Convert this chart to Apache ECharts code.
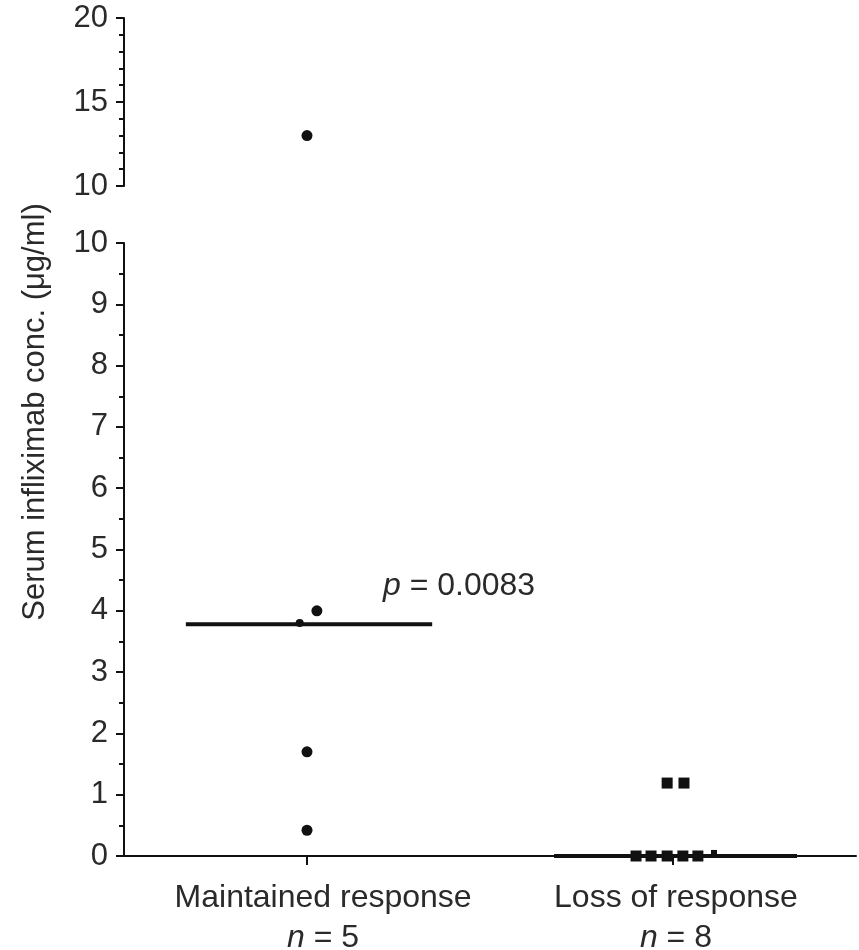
<!DOCTYPE html>
<html>
<head>
<meta charset="utf-8">
<script src="https://cdn.jsdelivr.net/npm/echarts@6/dist/echarts.min.js"></script>
<style>html,body{margin:0;padding:0;background:#fff;}#c{width:859px;height:950px;}</style>
</head>
<body>
<div id="c"></div>
<script>
// ---- data ----
var categories = ['Maintained response', 'Loss of response'];
var groupN = [5, 8];
var categoryPos = [0.5, 1.5];
var labelPos = [0.544, 1.508];
// Maintained response group (x position incl. jitter, concentration µg/ml)
var maintainedX = [0.5, 0.527, 0.48, 0.5, 0.5];
var maintainedY = [13.0, 4.0, 3.8, 1.7, 0.42];
// Loss of response group
var lossX = [1.484, 1.530, 1.399, 1.440, 1.484, 1.527, 1.568, 1.612];
var lossY = [1.19, 1.19, 0, 0, 0, 0, 0, 0.05];
// median lines [xStart, xEnd, value]
var medianMaintained = [0.169, 0.842, 3.78];
var medianLoss = [1.175, 1.839, 0];
var pValueText = '0.0083';
var yAxisTitle = 'Serum infliximab conc. (\u03bcg/ml)';
var breakValue = 10;

function pairs(xs, ys, cond) {
  var out = [];
  for (var i = 0; i < xs.length; i++) if (cond(ys[i])) out.push([xs[i], ys[i]]);
  return out;
}
var upper = function (v) { return v > breakValue; };
var lower = function (v) { return v <= breakValue; };

var FONT = 'Liberation Sans, Arial, sans-serif';
var TXT = '#2a2a2a';

var chart = echarts.init(document.getElementById('c'));
chart.setOption({
  animation: false,
  backgroundColor: '#fff',
  grid: [
    { left: 124, right: 3, top: 18, height: 168, containLabel: false, outerBoundsMode: 'none' },
    { left: 124, right: 3, top: 243, height: 613, containLabel: false, outerBoundsMode: 'none' }
  ],
  xAxis: [
    { gridIndex: 0, type: 'value', min: 0, max: 2, show: false },
    {
      gridIndex: 1, type: 'value', min: 0, max: 2,
      splitLine: { show: false },
      axisLine: { lineStyle: { color: '#111', width: 2 } },
      axisTick: { customValues: categoryPos, length: 9, lineStyle: { color: '#111', width: 2 } },
      axisLabel: {
        customValues: labelPos,
        margin: 22,
        fontFamily: FONT, fontSize: 32, color: TXT, lineHeight: 40,
        formatter: function (v) {
          var i = labelPos.indexOf(v);
          if (i < 0) return '';
          return categories[i] + '\n{n|n} = ' + groupN[i];
        },
        rich: { n: { fontStyle: 'italic', fontFamily: FONT, fontSize: 32, color: TXT } }
      }
    }
  ],
  yAxis: [
    {
      gridIndex: 0, type: 'value', min: 10, max: 20, interval: 5,
      splitLine: { show: false },
      axisLine: { show: true, lineStyle: { color: '#111', width: 2 } },
      axisTick: { show: true, length: 8, lineStyle: { color: '#111', width: 2 } },
      minorTick: { show: true, splitNumber: 5, length: 5, lineStyle: { color: '#111', width: 2 } },
      axisLabel: { fontFamily: FONT, fontSize: 31, color: TXT, margin: 16 }
    },
    {
      gridIndex: 1, type: 'value', min: 0, max: 10, interval: 1,
      splitLine: { show: false },
      axisLine: { show: true, lineStyle: { color: '#111', width: 2 } },
      axisTick: { show: true, length: 8, lineStyle: { color: '#111', width: 2 } },
      minorTick: { show: true, splitNumber: 2, length: 5, lineStyle: { color: '#111', width: 2 } },
      axisLabel: { fontFamily: FONT, fontSize: 31, color: TXT, margin: 16 }
    }
  ],
  series: [
    {
      type: 'line', xAxisIndex: 1, yAxisIndex: 1, symbol: 'none', z: 3,
      lineStyle: { color: '#111', width: 4 },
      data: [[medianMaintained[0], medianMaintained[2]], [medianMaintained[1], medianMaintained[2]]]
    },
    {
      type: 'line', xAxisIndex: 1, yAxisIndex: 1, symbol: 'none', z: 3,
      lineStyle: { color: '#111', width: 4 },
      data: [[medianLoss[0], medianLoss[2]], [medianLoss[1], medianLoss[2]]]
    },
    {
      type: 'scatter', xAxisIndex: 0, yAxisIndex: 0, symbol: 'circle', symbolSize: 11,
      itemStyle: { color: '#111', opacity: 1 }, clip: false, z: 5,
      data: pairs(maintainedX, maintainedY, upper)
    },
    {
      type: 'scatter', xAxisIndex: 1, yAxisIndex: 1, symbol: 'circle', clip: false, z: 5,
      symbolSize: function (d) { return Math.abs(d[1] - medianMaintained[2]) < 0.05 ? 8 : 11; },
      itemStyle: { color: '#111', opacity: 1 },
      data: pairs(maintainedX, maintainedY, lower)
    },
    {
      type: 'scatter', xAxisIndex: 1, yAxisIndex: 1, symbol: 'rect', clip: false, z: 5,
      symbolSize: function (d) { return d[1] > 0 && d[1] < 0.2 ? 6 : 11; },
      itemStyle: { color: '#111', opacity: 1 },
      data: pairs(lossX, lossY, lower)
    }
  ],
  graphic: [
    {
      type: 'text', x: 35, y: 412, rotation: Math.PI / 2,
      style: {
        text: yAxisTitle, fontFamily: FONT, fontSize: 31, fill: TXT,
        textAlign: 'center', textVerticalAlign: 'middle'
      }
    },
    {
      type: 'text', x: 383, y: 586,
      style: {
        text: '{p|p} = ' + pValueText,
        fontFamily: FONT, fontSize: 32, fill: TXT,
        textAlign: 'left', textVerticalAlign: 'middle',
        rich: { p: { fontStyle: 'italic', fontFamily: FONT, fontSize: 32, fill: TXT } }
      }
    }
  ]
});
</script>
</body>
</html>
